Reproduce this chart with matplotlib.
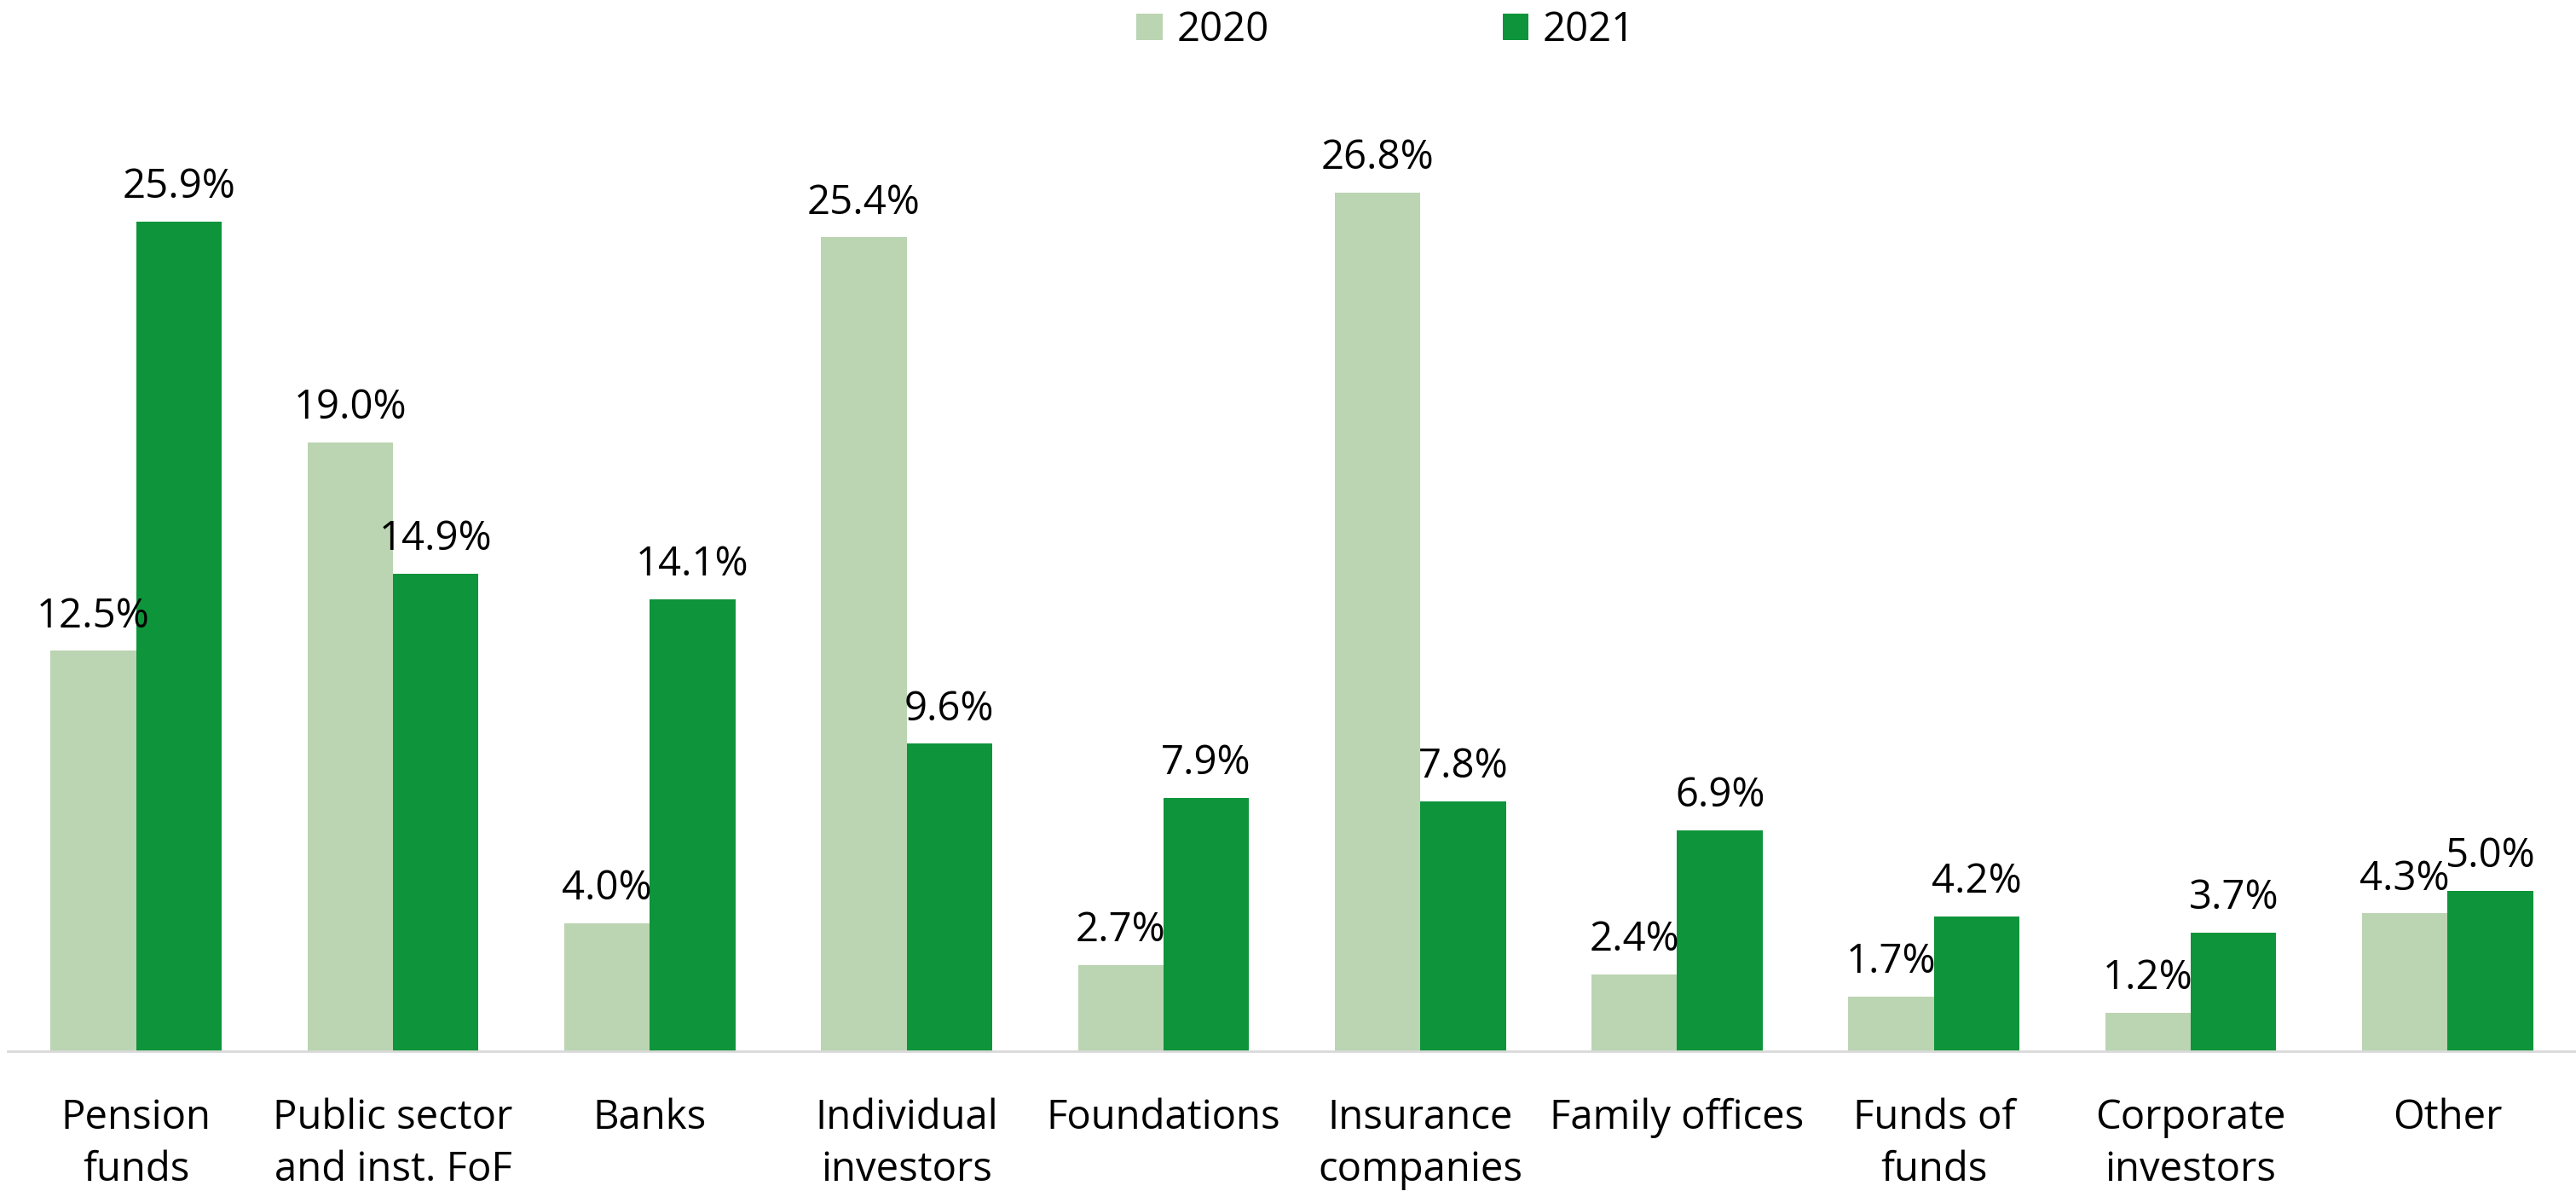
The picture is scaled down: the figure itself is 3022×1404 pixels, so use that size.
import matplotlib.pyplot as plt
import numpy as np

plt.rcParams['font.family'] = ['Open Sans', 'DejaVu Sans']

categories = ["Pension\nfunds", "Public sector\nand inst. FoF", "Banks", "Individual\ninvestors",
              "Foundations", "Insurance\ncompanies", "Family offices", "Funds of\nfunds",
              "Corporate\ninvestors", "Other"]
vals_2020 = [12.5, 19.0, 4.0, 25.4, 2.7, 26.8, 2.4, 1.7, 1.2, 4.3]
vals_2021 = [25.9, 14.9, 14.1, 9.6, 7.9, 7.8, 6.9, 4.2, 3.7, 5.0]

light = '#BBD4B2'
dark = '#0E943A'

fig = plt.figure(figsize=(30.22, 14.04), dpi=100)
ax = fig.add_axes([0.003, 0.1218, 0.997, 0.878])

x = np.arange(len(categories))
w = 0.333
b1 = ax.bar(x - w / 2, vals_2020, w, color=light, label='2020')
b2 = ax.bar(x + w / 2, vals_2021, w, color=dark, label='2021')

fs = 34
for bars in (b1, b2):
    ax.bar_label(bars, labels=[f"{v:.1f}%" for v in bars.datavalues],
                 padding=12, fontsize=fs, color='black')

ax.set_xlim(-0.5, 9.5)
ax.set_ylim(0, 32.8)
ax.set_yticks([])
ax.set_xticks(x)
ax.set_xticklabels(categories, fontsize=fs, linespacing=1.38)
ax.tick_params(axis='x', length=0, pad=39)
for s in ['top', 'right', 'left']:
    ax.spines[s].set_visible(False)
ax.spines['bottom'].set_color('#d9d9d9')
ax.spines['bottom'].set_linewidth(2)

fig.legend(handles=[b1, b2], labels=['2020', '2021'], loc='upper center',
           bbox_to_anchor=(0.538, 1.022), ncol=2, frameon=False, fontsize=fs,
           columnspacing=5.8, handlelength=0.65, handleheight=0.65, handletextpad=0.35)

fig.savefig('out.png', dpi=100)
